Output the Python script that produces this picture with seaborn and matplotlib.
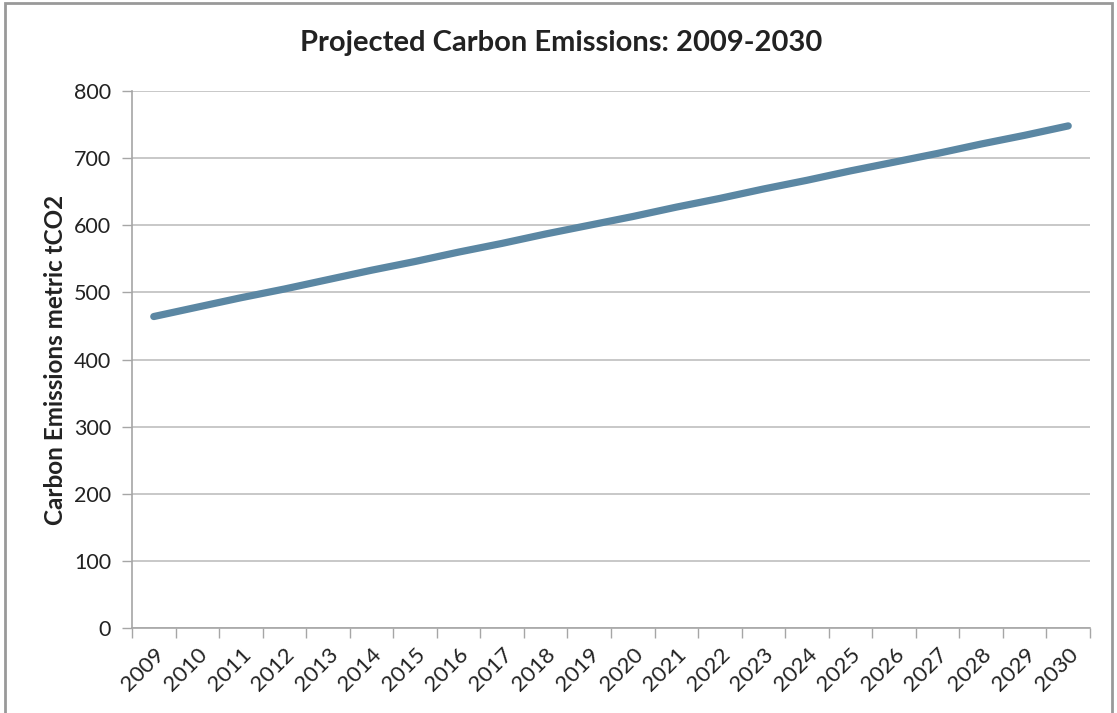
import matplotlib
matplotlib.use("Agg")
import matplotlib.pyplot as plt
import seaborn as sns
import pandas as pd
import numpy as np
from matplotlib.patches import Rectangle
from matplotlib.ticker import FixedLocator

years = [str(y) for y in range(2009, 2031)]
emissions = [464, 478, 492, 505, 519, 533, 546, 560, 573, 587, 600,
             613, 627, 640, 654, 667, 681, 694, 707, 721, 734, 748]
yticks = [0, 100, 200, 300, 400, 500, 600, 700, 800]

sns.set_theme(style="white")
plt.rcParams['font.family'] = ['Lato', 'DejaVu Sans']

df = pd.DataFrame({"pos": np.arange(len(years)), "year": years, "value": emissions})

fig = plt.figure(figsize=(11.17, 7.13), dpi=100)
ax = fig.add_axes([132/1117, 1 - 628/713, (1090-132)/1117, (628-91)/713])

sns.lineplot(data=df, x="pos", y="value", ax=ax, color="#5B87A3",
             linewidth=5.2, solid_capstyle="round")

ax.set_xlim(-0.5, len(years) - 0.5)
ax.set_ylim(0, 800)
ax.set_yticks(yticks)
ax.set_yticklabels([str(v) for v in yticks], fontsize=15.5, color="#222222")
ax.set_xticks(df["pos"])
ax.set_xticklabels(years, rotation=45, ha="right", rotation_mode="anchor",
                   fontsize=16, color="#222222")
ax.xaxis.set_minor_locator(FixedLocator(np.arange(-0.5, len(years), 1.0)))
ax.tick_params(axis="x", which="major", length=0, pad=12)
ax.tick_params(axis="x", which="minor", length=7, width=1, color="#A6A6A6", direction="out", bottom=True)
ax.tick_params(axis="y", which="major", length=7, width=1, color="#A6A6A6", direction="out", left=True, pad=8)

ax.grid(axis="y", color="#BFBFBF", linewidth=1.2)
ax.set_axisbelow(True)
for s in ["top", "right"]:
    ax.spines[s].set_visible(False)
for s in ["left", "bottom"]:
    ax.spines[s].set_color("#A6A6A6")
    ax.spines[s].set_linewidth(1.2)

ax.set_xlabel("")
ax.set_ylabel("Carbon Emissions metric tCO2", fontsize=17.5, fontweight="bold",
              color="#222222", labelpad=5)
fig.text(561/1117, 1 - 43/713, "Projected Carbon Emissions: 2009-2030",
         ha="center", va="center", fontsize=21, fontweight="bold", color="#222222")

fig.patches.append(Rectangle((5/1117, -0.01), (1112-5)/1117, 1 - 3/713 + 0.01,
                             transform=fig.transFigure, fill=False,
                             edgecolor="#999999", linewidth=2))

fig.savefig("out.png", dpi=100)
